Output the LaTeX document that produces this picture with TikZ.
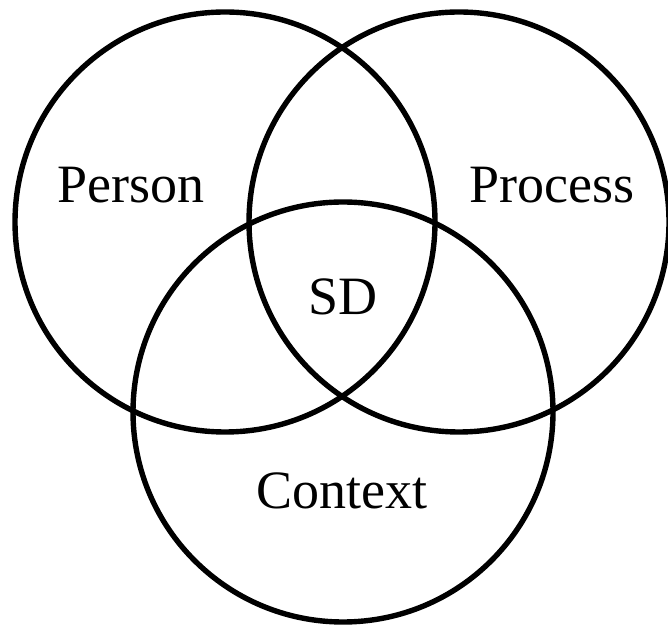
\documentclass[tikz,border=0pt]{standalone}
\usepackage{fontspec}
\setmainfont{Liberation Serif}
\begin{document}
\begin{tikzpicture}[x=1pt,y=1pt,
  venn/.style={circle,draw=black,line width=5.4pt,inner sep=0pt,minimum size=420pt},
  lbl/.style={anchor=base,font=\fontsize{54}{60}\selectfont,inner sep=0pt}]
\useasboundingbox (0,0) rectangle (668,626);
\node[venn] (person) at (225,404) {};
\node[venn] (process) at (459,404) {};
\node[venn] (context) at (343,214) {};
\node[lbl] (tperson) at (131,423) {Person};
\node[lbl] (tprocess) at (552,423) {Process};
\node[lbl] (tsd) at (343,311) {SD};
\node[lbl] (tcontext) at (342,118) {Context};
\end{tikzpicture}
\end{document}
